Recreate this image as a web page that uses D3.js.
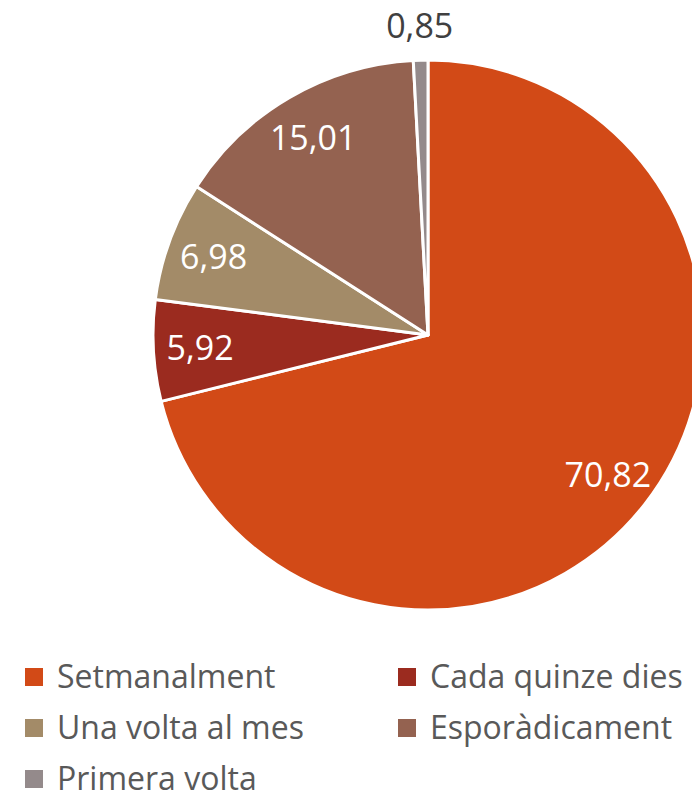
<!DOCTYPE html>
<html>
<head>
<meta charset="utf-8">
<script src="https://cdn.jsdelivr.net/npm/d3@7"></script>
<style>
  body { margin: 0; background: #fff; }
  svg { display: block; }
  text { font-family: "Open Sans", "Noto Sans", sans-serif; }
</style>
</head>
<body>
<svg id="chart" width="692" height="800"></svg>
<script>
const categories = ["Setmanalment", "Cada quinze dies", "Una volta al mes", "Esporàdicament", "Primera volta"];
const values = [70.82, 5.92, 6.98, 15.01, 0.85];
const valueLabels = ["70,82", "5,92", "6,98", "15,01", "0,85"];
const colors = ["#d24a17", "#9b2b1f", "#a38b68", "#946250", "#948a8b"];

const svg = d3.select("#chart");
const cx = 428, cy = 335, radius = 275;

const data = categories.map((c, i) => ({ name: c, value: values[i], label: valueLabels[i], color: colors[i] }));

const pie = d3.pie().sort(null).value(d => d.value);
const arcs = pie(data);

const arc = d3.arc().innerRadius(0).outerRadius(radius);

const g = svg.append("g").attr("transform", `translate(${cx},${cy})`);

g.selectAll("path.slice")
    .data(arcs)
    .enter()
    .append("path")
    .attr("class", "slice")
    .attr("d", arc)
    .attr("fill", d => d.data.color)
    .attr("stroke", "#fff")
    .attr("stroke-width", 3)
    .attr("stroke-linejoin", "round");

// labels inside at ~0.83R, the tiny slice goes outside
const inner = d3.arc().innerRadius(radius * 0.83).outerRadius(radius * 0.83);
const outer = d3.arc().innerRadius(radius + 34).outerRadius(radius + 34);
const isSmall = d => (d.endAngle - d.startAngle) < 0.1;

g.selectAll("text.val")
    .data(arcs)
    .enter()
    .append("text")
    .attr("class", "val")
    .attr("transform", d => {
        const p = isSmall(d) ? outer.centroid(d) : inner.centroid(d);
        return `translate(${p[0]},${p[1]})`;
    })
    .attr("text-anchor", "middle")
    .attr("dy", "0.35em")
    .attr("font-size", 34)
    .attr("fill", d => isSmall(d) ? "#404040" : "#fff")
    .text(d => d.data.label);

// legend, two columns
const legend = svg.append("g");
const items = legend.selectAll("g.item")
    .data(data)
    .enter()
    .append("g")
    .attr("class", "item")
    .attr("transform", (d, i) => `translate(${i % 2 === 0 ? 25 : 398},${677 + Math.floor(i / 2) * 51})`);

items.append("rect")
    .attr("x", 0)
    .attr("y", -9)
    .attr("width", 18)
    .attr("height", 18)
    .attr("fill", d => d.color);

items.append("text")
    .attr("x", 32)
    .attr("dy", "0.35em")
    .attr("font-size", 32)
    .attr("fill", "#595959")
    .text(d => d.name);
</script>
</body>
</html>
